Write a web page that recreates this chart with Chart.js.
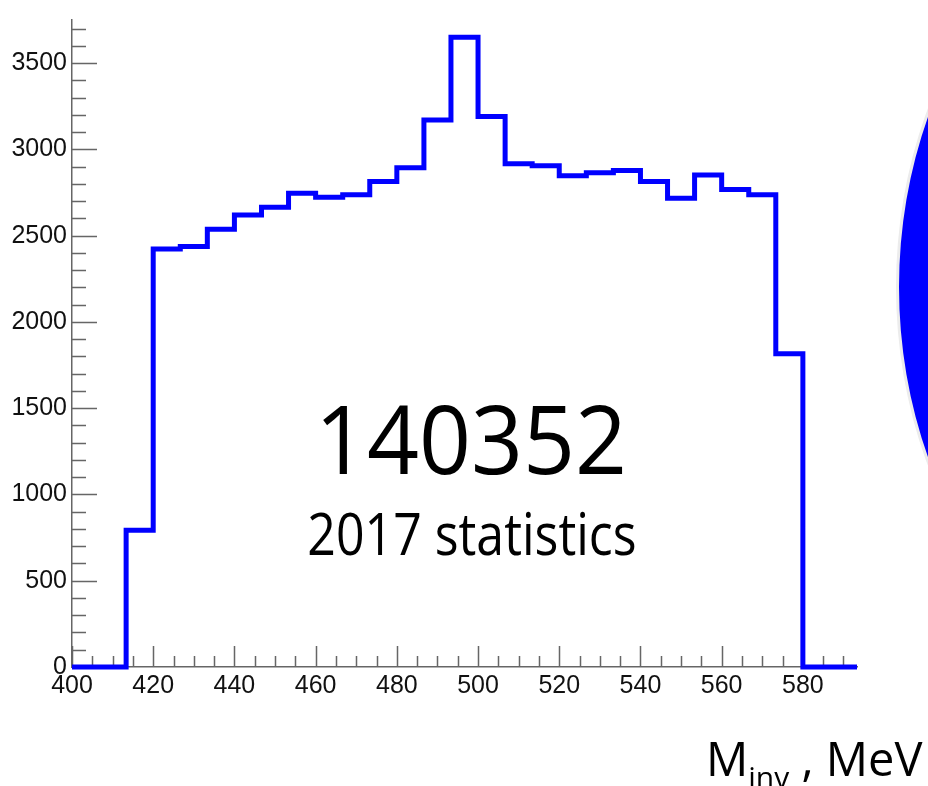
<!DOCTYPE html>
<html>
<head>
<meta charset="utf-8">
<script src="https://cdn.jsdelivr.net/npm/chart.js@4/dist/chart.umd.min.js"></script>
<style>
  body { margin: 0; background: #fff; }
  #wrap { position: relative; width: 928px; height: 786px; overflow: hidden; }
  #chart { position: absolute; left: 0; top: 0; }
  .txt { position: absolute; font-family: "Open Sans", "Noto Sans", sans-serif; color: #000; white-space: nowrap; line-height: 1; }
  #count { left: 0; width: 942px; text-align: center; top: 394px; font-size: 91px; transform: scaleY(1.04); transform-origin: 50% 80px; }
  #stat { left: 0; width: 944px; text-align: center; top: 511px; font-size: 50px; transform: scaleY(1.17); transform-origin: 50% 44px; }
  #xtitle { left: 706px; top: 735px; font-size: 47px; }
  #xtitle sub { font-size: 30px; vertical-align: -0.4em; line-height: 0; }
  #blob {
    position: absolute; left: 896px; top: -163px; width: 776px; height: 900px;
    border-radius: 50%; background: #0000ff; border: 3px solid #ececec; box-sizing: border-box;
  }
</style>
</head>
<body>
<div id="wrap">
  <canvas id="chart" width="928" height="786"></canvas>
  <div id="blob"></div>
  <div class="txt" id="count">140352</div>
  <div class="txt" id="stat">2017 statistics</div>
  <div class="txt" id="xtitle">M<sub>inv</sub> , MeV</div>
</div>
<script>
// bin edges (MeV) and counts per bin
const binEdges = [400, 406.67, 413.33, 420, 426.67, 433.33, 440, 446.67, 453.33, 460,
                  466.67, 473.33, 480, 486.67, 493.33, 500, 506.67, 513.33, 520, 526.67,
                  533.33, 540, 546.67, 553.33, 560, 566.67, 573.33, 580, 586.67, 593.33];
const counts = [0, 0, 792, 2423, 2437, 2537, 2620, 2665, 2746, 2723,
                2737, 2814, 2894, 3171, 3650, 3191, 2917, 2905, 2848, 2865,
                2877, 2814, 2717, 2851, 2768, 2737, 1815, 0, 0];
const xTicks = [400, 420, 440, 460, 480, 500, 520, 540, 560, 580];
const yTicks = [0, 500, 1000, 1500, 2000, 2500, 3000, 3500];

// histogram outline: one point per left edge, the last edge closes the final bin
const points = binEdges.map((e, i) => ({ x: e, y: counts[Math.min(i, counts.length - 1)] }));

// ROOT style tick marks pointing into the frame
const innerTicks = {
    id: 'innerTicks',
    beforeDatasetsDraw(chart) {
        const { ctx, chartArea, scales: { x, y } } = chart;
        ctx.save();
        ctx.strokeStyle = '#666';
        ctx.lineWidth = 1.5;
        ctx.beginPath();
        for (let v = 400; v <= x.max + 0.01; v += 5) {
            const px = Math.round(x.getPixelForValue(v)) + 0.5;
            const len = v % 20 === 0 ? 21 : 11;
            ctx.moveTo(px, chartArea.bottom);
            ctx.lineTo(px, chartArea.bottom - len);
        }
        for (let v = 0; v <= y.max; v += 100) {
            const py = Math.round(y.getPixelForValue(v)) + 0.5;
            const len = v % 500 === 0 ? 25 : 14;
            ctx.moveTo(chartArea.left, py);
            ctx.lineTo(chartArea.left + len, py);
        }
        ctx.stroke();
        ctx.restore();
    }
};

const tickFont = { family: '"Liberation Sans", Arial, sans-serif', size: 25 };

new Chart(document.getElementById('chart').getContext('2d'), {
    type: 'line',
    data: {
        datasets: [{
            data: points,
            stepped: 'before',
            borderColor: '#0000ff',
            borderWidth: 5,
            borderJoinStyle: 'miter',
            pointRadius: 0,
            fill: false,
            clip: false
        }]
    },
    options: {
        responsive: false,
        animation: false,
        devicePixelRatio: 1,
        layout: { padding: { top: 10, right: 71, left: 0, bottom: 0 } },
        plugins: { legend: { display: false }, tooltip: { enabled: false } },
        scales: {
            x: {
                type: 'linear',
                min: 400,
                max: 593.33,
                afterBuildTicks: s => { s.ticks = xTicks.map(v => ({ value: v })); },
                afterFit: s => { s.height = 119; },
                grid: { drawOnChartArea: false, drawTicks: false },
                border: { display: true, color: '#666', width: 1.5 },
                ticks: { font: tickFont, color: '#111', padding: 4, maxRotation: 0, autoSkip: false,
                         callback: v => String(v) }
            },
            y: {
                min: 0,
                max: 3750,
                afterBuildTicks: s => { s.ticks = yTicks.map(v => ({ value: v })); },
                afterFit: s => { s.width = 72; },
                grid: { drawOnChartArea: false, drawTicks: false },
                border: { display: true, color: '#666', width: 1.5 },
                ticks: { font: tickFont, color: '#111', padding: 5, callback: v => String(v) }
            }
        }
    },
    plugins: [innerTicks]
});
</script>
</body>
</html>
